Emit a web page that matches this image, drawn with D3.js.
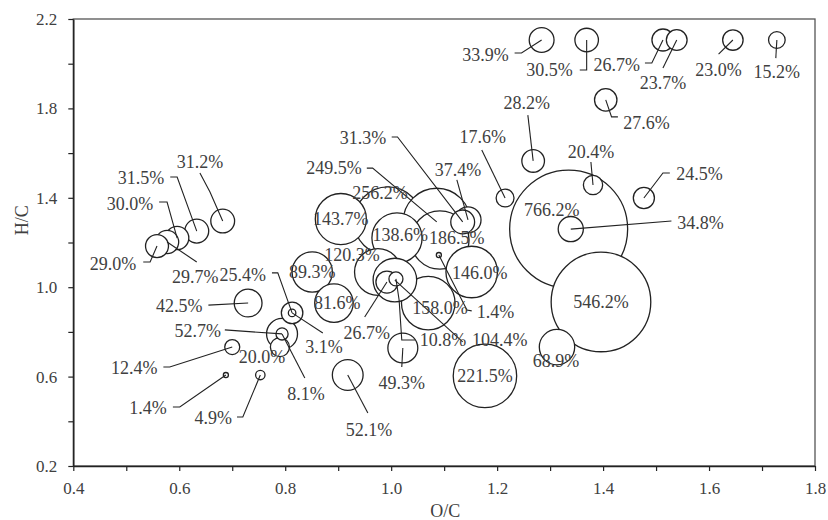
<!DOCTYPE html>
<html>
<head>
<meta charset="utf-8">
<script src="https://cdn.jsdelivr.net/npm/d3@7"></script>
<style>
  body { margin: 0; background: #fff; }
  text { font-family: "Liberation Serif", "Times New Roman", serif; }
</style>
</head>
<body>
<div id="chart"></div>
<script>
// bubble values (%), positions in O/C, H/C
const pct = [33.9, 30.5, 26.7, 23.7, 23.0, 15.2, 27.6, 28.2, 17.6, 20.4,
             24.5, 766.2, 34.8, 546.2, 68.9, 221.5, 146.0, 1.4, 104.4, 10.8,
             26.7, 120.3, 256.2, 249.5, 31.3, 37.4, 143.7, 138.6, 186.5, 158.0,
             89.3, 81.6, 42.5, 25.4, 3.1, 52.7, 8.1, 20.0, 12.4, 1.4,
             4.9, 52.1, 49.3, 31.2, 31.5, 30.0, 29.7, 29.0];
const oc = [1.284, 1.369, 1.513, 1.539, 1.645, 1.728, 1.405, 1.268, 1.215, 1.381,
            1.477, 1.335, 1.339, 1.396, 1.313, 1.177, 1.152, 1.090, 1.007, 1.009,
            0.992, 0.975, 0.994, 1.086, 1.135, 1.145, 0.905, 1.011, 1.092, 1.070,
            0.851, 0.892, 0.730, 0.813, 0.813, 0.794, 0.794, 0.790, 0.700, 0.688,
            0.753, 0.918, 1.022, 0.682, 0.633, 0.596, 0.577, 0.558];
const hc = [2.106, 2.106, 2.106, 2.106, 2.106, 2.106, 1.838, 1.565, 1.399, 1.457,
            1.399, 1.260, 1.260, 0.934, 0.732, 0.603, 1.068, 1.144, 1.032, 1.037,
            1.023, 1.068, 1.296, 1.292, 1.292, 1.301, 1.305, 1.220, 1.211, 0.929,
            1.068, 0.929, 0.929, 0.885, 0.885, 0.791, 0.791, 0.732, 0.732, 0.607,
            0.607, 0.607, 0.728, 1.296, 1.251, 1.220, 1.202, 1.184];

// label anchors (O/C, H/C)
const labelOC = [1.178, 1.299, 1.426, 1.513, 1.618, 1.728, 1.482, 1.256, 1.173, 1.377,
                 1.582, 1.303, 1.584, 1.396, 1.311, 1.177, 1.167, 1.197, 1.205, 1.098,
                 0.954, 0.926, 0.979, 0.892, 0.947, 1.126, 0.905, 1.017, 1.124, 1.092,
                 0.851, 0.898, 0.600, 0.720, 0.873, 0.635, 0.839, 0.756, 0.515, 0.541,
                 0.664, 0.958, 1.020, 0.639, 0.528, 0.507, 0.630, 0.475];
const labelHC = [2.039, 1.972, 1.994, 1.914, 1.972, 1.963, 1.735, 1.824, 1.672, 1.605,
                 1.507, 1.345, 1.287, 0.934, 0.670, 0.603, 1.064, 0.889, 0.764, 0.764,
                 0.795, 1.144, 1.421, 1.533, 1.668, 1.524, 1.305, 1.234, 1.220, 0.907,
                 1.068, 0.929, 0.916, 1.055, 0.732, 0.804, 0.522, 0.688, 0.638, 0.460,
                 0.415, 0.361, 0.571, 1.560, 1.489, 1.372, 1.046, 1.104];

// leader line bends, from the label side toward the bubble centre (O/C, H/C)
const leaders = [
  [[1.233, 2.048], [1.246, 2.048]],
  [[1.356, 1.972], [1.369, 1.972]],
  [[1.479, 2.003], [1.492, 2.003]],
  [[1.513, 1.981]],
  [[1.618, 2.043]],
  [[1.726, 2.025]],
  [[1.428, 1.762], [1.416, 1.762]],
  [[1.258, 1.770]],
  [[1.171, 1.614]],
  [[1.377, 1.560]],
  [[1.526, 1.511], [1.513, 1.511]],
  [],
  [[1.529, 1.296]],
  [], [], [], [],
  [[1.152, 0.894], [1.143, 0.898]],
  [[1.135, 0.755]],
  [[1.045, 0.764], [1.020, 0.764], [1.015, 0.943]],
  [[0.950, 0.867]],
  [], [],
  [[0.954, 1.533], [0.965, 1.533]],
  [[1.001, 1.672], [1.012, 1.672]],
  [[1.124, 1.480]],
  [], [], [], [], [], [],
  [[0.655, 0.920]],
  [[0.775, 1.064], [0.786, 1.064]],
  [[0.871, 0.795]],
  [[0.686, 0.809]],
  [[0.837, 0.594]],
  [],
  [[0.570, 0.643], [0.582, 0.643]],
  [[0.588, 0.464], [0.601, 0.464]],
  [[0.709, 0.419], [0.720, 0.419]],
  [[0.956, 0.437]],
  [[1.020, 0.643]],
  [[0.639, 1.511], [0.658, 1.426]],
  [[0.583, 1.493], [0.596, 1.493]],
  [[0.562, 1.381], [0.577, 1.381]],
  [[0.633, 1.113]],
  [[0.532, 1.113], [0.545, 1.113]]
];

const xTicks = [0.4, 0.5, 0.6, 0.7, 0.8, 0.9, 1.0, 1.1, 1.2, 1.3, 1.4, 1.5, 1.6, 1.7, 1.8];
const xTickLabels = [0.4, 0.6, 0.8, 1.0, 1.2, 1.4, 1.6, 1.8];
const yTicks = [0.2, 0.4, 0.6, 0.8, 1.0, 1.2, 1.4, 1.6, 1.8, 2.0, 2.2];
const yTickLabels = [0.2, 0.6, 1.0, 1.4, 1.8, 2.2];

const W = 828, H = 520;
const margin = { top: 19, right: 13, bottom: 54, left: 73.3 };
const textColor = "#404040", lineColor = "#222";

const svg = d3.select("#chart").append("svg")
  .attr("width", W).attr("height", H);

const x = d3.scaleLinear().domain([0.4, 1.8]).range([margin.left, W - margin.right]);
const y = d3.scaleLinear().domain([0.2, 2.2]).range([H - margin.bottom, margin.top]);
const r = d3.scaleSqrt().domain([0, 766.2]).range([0, 59]);

// frame
svg.append("rect")
  .attr("x", x(0.4)).attr("y", y(2.2))
  .attr("width", x(1.8) - x(0.4)).attr("height", y(0.2) - y(2.2))
  .attr("fill", "none").attr("stroke", "#555").attr("stroke-width", 1.3);

const near = (a, b) => Math.abs(a - b) < 1e-6;

const xAxis = svg.append("g")
  .attr("transform", "translate(0," + y(0.2) + ")")
  .call(d3.axisBottom(x).tickValues(xTicks).tickSize(5).tickSizeOuter(0).tickPadding(11)
    .tickFormat(d => xTickLabels.some(v => near(v, d)) ? d3.format(".1f")(d) : ""));

const yAxis = svg.append("g")
  .attr("transform", "translate(" + x(0.4) + ",0)")
  .call(d3.axisLeft(y).tickValues(yTicks).tickSize(5).tickSizeOuter(0).tickPadding(11)
    .tickFormat(d => yTickLabels.some(v => near(v, d)) ? d3.format(".1f")(d) : ""));

[xAxis, yAxis].forEach(g => {
  g.select(".domain").attr("stroke", lineColor).attr("stroke-width", 1.5);
  g.selectAll(".tick line").attr("stroke", lineColor).attr("stroke-width", 1.2);
  g.selectAll(".tick text")
    .attr("fill", textColor)
    .style("font-family", '"Liberation Serif", serif')
    .style("font-size", "17px");
});

// axis titles
svg.append("text")
  .attr("x", (x(0.4) + x(1.8)) / 2 + 1).attr("y", H - 3)
  .attr("text-anchor", "middle")
  .attr("fill", textColor).style("font-size", "18px")
  .text("O/C");

svg.append("text")
  .attr("transform", "translate(" + 28 + "," + y(1.3) + ") rotate(-90)")
  .attr("text-anchor", "middle")
  .attr("fill", textColor).style("font-size", "18px")
  .text("H/C");

// bubbles, biggest first so small ones sit on top
const idx = d3.range(pct.length).sort((a, b) => pct[b] - pct[a]);

svg.append("g").selectAll("circle")
  .data(idx).enter()
  .append("circle")
    .attr("cx", i => x(oc[i]))
    .attr("cy", i => y(hc[i]))
    .attr("r", i => r(pct[i]))
    .attr("fill", "#fff")
    .attr("stroke", lineColor)
    .attr("stroke-width", 1.3);

// leader lines
const line = d3.line().x(p => x(p[0])).y(p => y(p[1]));
svg.append("g").selectAll("path")
  .data(d3.range(pct.length).filter(i => leaders[i].length > 0)).enter()
  .append("path")
    .attr("d", i => line(leaders[i].concat([[oc[i], hc[i]]])))
    .attr("fill", "none")
    .attr("stroke", lineColor)
    .attr("stroke-width", 1.1);

// labels
svg.append("g").selectAll("text")
  .data(d3.range(pct.length)).enter()
  .append("text")
    .attr("x", i => x(labelOC[i]))
    .attr("y", i => y(labelHC[i]))
    .attr("text-anchor", "middle")
    .attr("dominant-baseline", "central")
    .attr("fill", textColor)
    .style("font-size", "18px")
    .text(i => d3.format(".1f")(pct[i]) + "%");
</script>
</body>
</html>
